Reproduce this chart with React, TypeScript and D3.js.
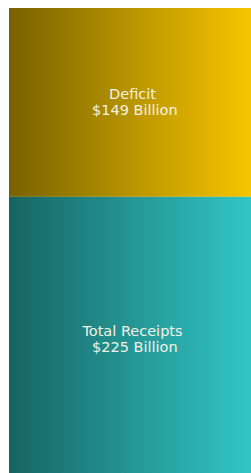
import React, { useEffect } from "react";
import * as d3 from "d3";

const categories = ["Deficit", "Total Receipts"];
const values = [149, 225];
const labelLines = [["Deficit", " $149 Billion"], ["Total Receipts", " $225 Billion"]];
const gradients = [
  ["#786200", "#fac800"],
  ["#176462", "#32c9c9"],
];

export default function App() {
  useEffect(() => {
    document.documentElement.style.overflow = "hidden";
    document.body.style.overflow = "hidden";
    document.body.style.margin = "0";
  }, []);
  const width = 249;
  const viewW = 242;
  const height = 474;
  const total = d3.sum(values);
  const y = d3.scaleLinear().domain([0, total]).range([0, height]);
  let acc = 0;
  const segs = values.map((v, i) => {
    const s = { y0: acc, y1: acc + v, i };
    acc += v;
    return s;
  });
  const cx = width / 2 - 1;
  return (
    <svg width={viewW} height={height} style={{ display: "block", marginLeft: 9, marginTop: 8 }}>
      <defs>
        {gradients.map((g, i) => (
          <linearGradient key={i} id={`g${i}`} gradientUnits="userSpaceOnUse" x1="0" x2={width} y1="0" y2="0">
            <stop offset="0" stopColor={g[0]} />
            <stop offset="1" stopColor={g[1]} />
          </linearGradient>
        ))}
      </defs>
      {segs.map((s) => {
        const top = y(s.y0);
        const h = y(s.y1) - y(s.y0);
        const cy = top + h / 2;
        return (
          <g key={categories[s.i]}>
            <rect x={0} y={top} width={width} height={h} fill={`url(#g${s.i})`} />
            <text
              x={cx}
              y={cy - 3}
              textAnchor="middle"
              fill="#f4f1e4"
              fontFamily="DejaVu Sans, Verdana, sans-serif"
              fontSize={14.5}
              style={{ whiteSpace: "pre" }}
            >
              <tspan x={cx}>{labelLines[s.i][0]}</tspan>
              <tspan x={cx} dy={16}>{labelLines[s.i][1]}</tspan>
            </text>
          </g>
        );
      })}
    </svg>
  );
}
